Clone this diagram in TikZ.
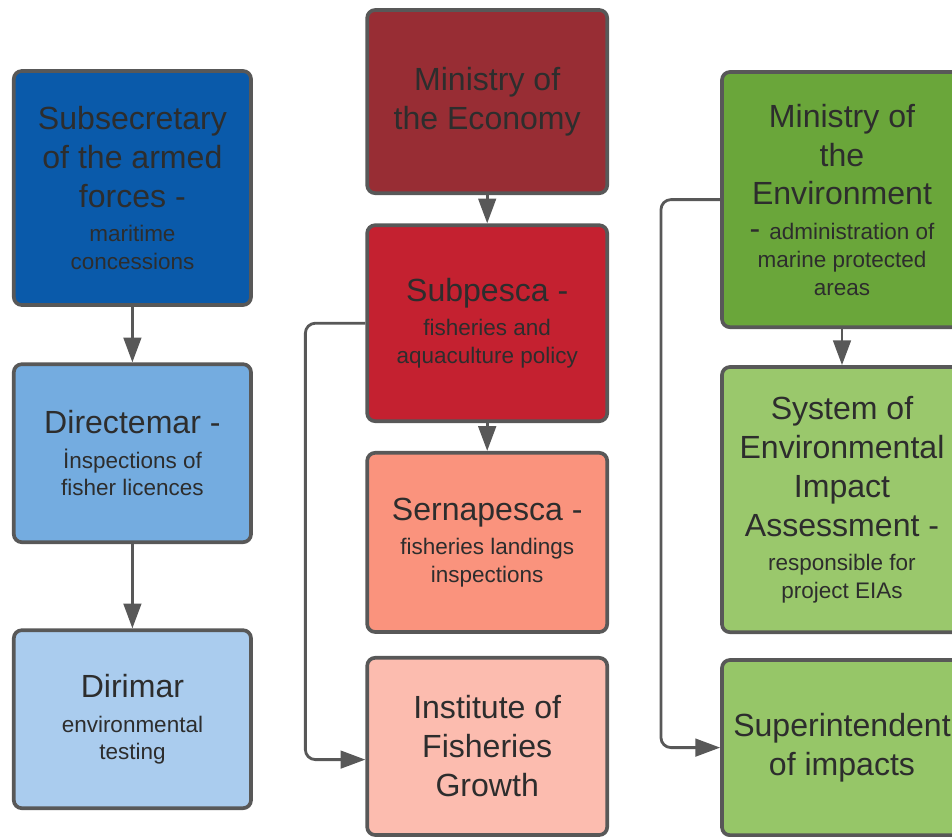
\documentclass[tikz,border=0pt]{standalone}
\usepackage{fontspec}
\setmainfont{Liberation Sans}
\usetikzlibrary{positioning, arrows.meta}
\definecolor{myborder}{RGB}{88,88,88}
\definecolor{mytext}{RGB}{45,45,45}
\definecolor{armyblue}{RGB}{10,90,170}
\definecolor{midblue}{RGB}{116,172,224}
\definecolor{paleblue}{RGB}{170,204,238}
\definecolor{darkred}{RGB}{152,45,52}
\definecolor{myred}{RGB}{196,33,48}
\definecolor{salmon}{RGB}{250,147,125}
\definecolor{palesalmon}{RGB}{252,188,175}
\definecolor{darkgreen}{RGB}{106,166,58}
\definecolor{midgreen}{RGB}{154,200,108}
\definecolor{palegreen}{RGB}{150,198,104}
\newcommand{\boxhead}{\fontsize{22.8}{27.7}\selectfont}
\newcommand{\boxnote}{\fontsize{16}{19.5}\selectfont}
\tikzset{
  orgbox/.style={draw=myborder, line width=2.6pt, rounded corners=0.2cm,
    text=mytext, align=center, inner sep=2pt, font=\boxhead,
    minimum width=5.93cm},
  link/.style={draw=myborder, line width=2pt,
    -{Triangle[length=0.62cm,width=0.44cm]}},
  elbow/.style={link, rounded corners=0.25cm}
}
\begin{document}
\begin{tikzpicture}

\useasboundingbox (0,0) rectangle (23.8,-20.925);

\node [orgbox, fill=armyblue, minimum height=5.85cm] (subsec) at (3.31,-4.70)
  {Subsecretary\\of the armed\\forces -\\[-3pt]\boxnote maritime\\[-8pt]\boxnote concessions};
\node [orgbox, fill=midblue, minimum height=4.45cm] (direc) at (3.31,-11.33)
  {Directemar -\\[-3pt]\boxnote İnspections of\\[-8pt]\boxnote fisher licences};
\node [orgbox, fill=paleblue, minimum height=4.45cm] (dirim) at (3.31,-17.98)
  {Dirimar\\[-3pt]\boxnote environmental\\[-8pt]\boxnote testing};

\node [orgbox, fill=darkred, minimum width=6cm, minimum height=4.58cm] (econ) at (12.18,-2.54)
  {Ministry of\\the Economy};
\node [orgbox, fill=myred, minimum width=6cm, minimum height=4.9cm] (subp) at (12.18,-8.08)
  {Subpesca -\\[-3pt]\boxnote fisheries and\\[-8pt]\boxnote aquaculture policy};
\node [orgbox, fill=salmon, minimum width=6cm, minimum height=4.48cm] (sern) at (12.18,-13.56)
  {Sernapesca -\\[-3pt]\boxnote fisheries landings\\[-8pt]\boxnote inspections};
\node [orgbox, fill=palesalmon, minimum width=6cm, minimum height=4.43cm] (inst) at (12.18,-18.66)
  {Institute of\\Fisheries\\Growth};

\node [orgbox, fill=darkgreen, minimum width=6cm, minimum height=6.38cm] (env) at (21.05,-4.99)
  {Ministry of\\the\\Environment\\[-3pt]- \boxnote administration of\\[-8pt]\boxnote marine protected\\[-8pt]\boxnote areas};
\node [orgbox, fill=midgreen, minimum width=6cm, minimum height=6.63cm] (sys) at (21.05,-12.49)
  {System of\\Environmental\\Impact\\Assessment -\\[-3pt]\boxnote responsible for\\[-8pt]\boxnote project EIAs};
\node [orgbox, fill=palegreen, minimum width=6cm, minimum height=4.38cm] (sup) at (21.05,-18.69)
  {Superintendent\\of impacts};

\draw [link] (subsec) -- (direc);
\draw [link] (direc) -- (dirim);
\draw [link] (econ) -- (subp);
\draw [link] (subp) -- (sern);
\draw [link] (env) -- (sys);

\draw [elbow] (subp.west) -- ++(-1.5,0) |- ([yshift=-0.33cm]inst.west);
\draw [elbow] (env.west) -- ++(-1.48,0) |- (sup.west);

\end{tikzpicture}
\end{document}
